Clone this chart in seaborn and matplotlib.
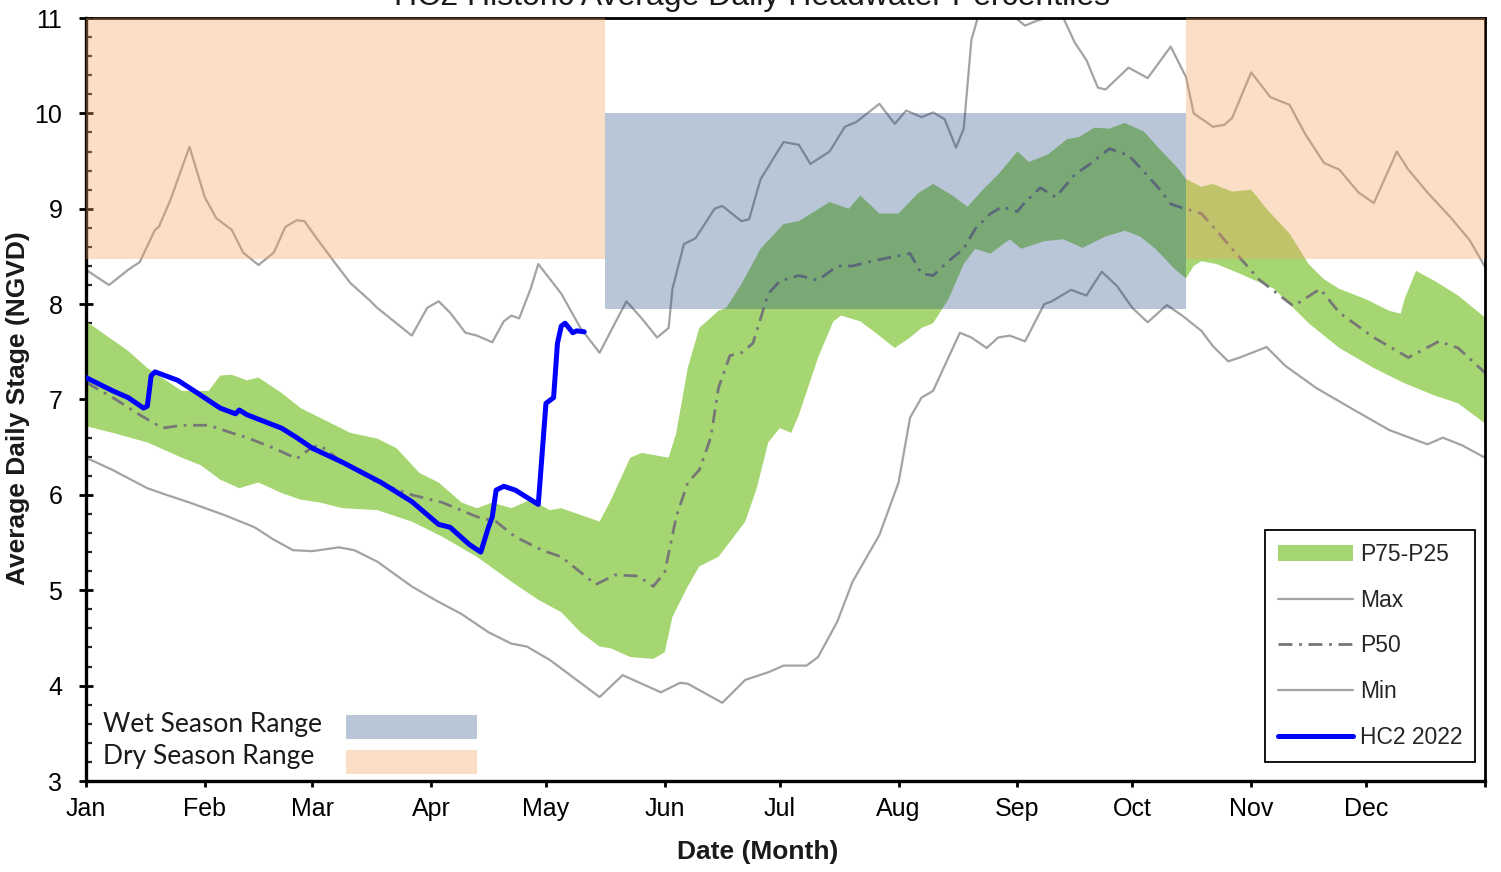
import numpy as np
import matplotlib
matplotlib.use("Agg")
import matplotlib.pyplot as plt
import seaborn as sns
from matplotlib.patches import Patch, Rectangle
from matplotlib.lines import Line2D
from matplotlib.ticker import MultipleLocator

# ---- data: (day of year, stage in ft NGVD) ----
MAX_PTS = [(0, 8.36), (6, 8.20), (11, 8.36), (14, 8.44), (18, 8.78), (19, 8.81), (22, 9.09), (27, 9.65),
           (31, 9.12), (34, 8.90), (38, 8.78), (41, 8.54), (45, 8.41), (49, 8.54), (52, 8.81), (55, 8.88),
           (57, 8.87), (60, 8.70), (65, 8.43), (69, 8.22), (74, 8.04), (76, 7.96), (85, 7.67), (89, 7.96),
           (92, 8.03), (95, 7.91), (99, 7.70), (102, 7.67), (106, 7.60), (109, 7.82), (111, 7.88), (113, 7.85),
           (116, 8.16), (118, 8.42), (124, 8.11), (129, 7.75), (134, 7.49), (138, 7.80), (141, 8.03), (145, 7.85),
           (149, 7.65), (152, 7.75), (153, 8.16), (156, 8.63), (159, 8.69), (164, 9.00), (166, 9.03), (171, 8.87),
           (173, 8.89), (176, 9.31), (182, 9.70), (186, 9.67), (189, 9.47), (194, 9.60), (198, 9.86), (201, 9.91),
           (207, 10.10), (211, 9.89), (214, 10.03), (218, 9.96), (221, 10.01), (224, 9.94), (227, 9.64), (229, 9.84),
           (231, 10.77), (233, 11.05), (241, 11.05), (245, 10.92), (248, 10.97), (252, 11.02), (255, 11.00),
           (258, 10.74), (261, 10.56), (264, 10.27), (266, 10.25), (272, 10.48), (277, 10.37), (283, 10.70),
           (287, 10.38), (289, 10.00), (294, 9.86), (297, 9.88), (299, 9.95), (304, 10.43), (309, 10.17),
           (314, 10.09), (318, 9.79), (323, 9.48), (327, 9.41), (332, 9.17), (336, 9.06), (342, 9.60), (345, 9.41),
           (350, 9.17), (356, 8.91), (361, 8.67), (365, 8.39)]

MIN_PTS = [(0, 6.39), (7, 6.26), (16, 6.07), (21, 6.00), (27, 5.92), (36, 5.79), (44, 5.66), (49, 5.53),
           (54, 5.42), (59, 5.41), (66, 5.45), (70, 5.42), (76, 5.30), (85, 5.04), (91, 4.90), (98, 4.75),
           (105, 4.56), (111, 4.44), (115, 4.41), (121, 4.27), (134, 3.88), (140, 4.11), (150, 3.93), (155, 4.03),
           (157, 4.02), (166, 3.82), (172, 4.06), (178, 4.14), (182, 4.21), (188, 4.21), (191, 4.30), (196, 4.67),
           (200, 5.09), (204, 5.37), (207, 5.58), (212, 6.13), (215, 6.81), (218, 7.02), (221, 7.09), (225, 7.44),
           (228, 7.70), (231, 7.65), (235, 7.54), (238, 7.65), (241, 7.67), (245, 7.61), (250, 8.00), (252, 8.03),
           (257, 8.15), (261, 8.09), (265, 8.34), (269, 8.19), (273, 7.96), (277, 7.81), (282, 7.99), (286, 7.88),
           (291, 7.72), (294, 7.56), (298, 7.40), (301, 7.44), (308, 7.55), (313, 7.35), (321, 7.12), (330, 6.91),
           (340, 6.68), (350, 6.53), (354, 6.60), (359, 6.52), (365, 6.39)]

P75_PTS = [(0, 7.82), (11, 7.51), (16, 7.33), (25, 7.09), (32, 7.09), (35, 7.25), (38, 7.26), (42, 7.20),
           (45, 7.23), (51, 7.07), (56, 6.91), (61, 6.81), (64, 6.75), (69, 6.65), (76, 6.59), (81, 6.49),
           (87, 6.23), (92, 6.13), (98, 5.92), (102, 5.86), (106, 5.92), (111, 5.86), (116, 5.95), (121, 5.84),
           (124, 5.86), (129, 5.79), (134, 5.72), (137, 5.95), (142, 6.39), (145, 6.44), (152, 6.39), (154, 6.65),
           (157, 7.33), (160, 7.75), (165, 7.93), (167, 7.96), (171, 8.21), (176, 8.58), (182, 8.84), (186, 8.87),
           (194, 9.07), (199, 9.00), (202, 9.14), (207, 8.95), (212, 8.95), (217, 9.16), (221, 9.26), (226, 9.14),
           (230, 9.02), (234, 9.20), (238, 9.36), (243, 9.60), (246, 9.49), (251, 9.57), (256, 9.73), (259, 9.75),
           (263, 9.85), (267, 9.84), (271, 9.90), (276, 9.81), (280, 9.63), (285, 9.42), (287, 9.31), (291, 9.23),
           (294, 9.26), (299, 9.18), (304, 9.20), (308, 9.00), (314, 8.74), (319, 8.42), (323, 8.26), (327, 8.16),
           (334, 8.05), (340, 7.93), (343, 7.90), (344, 8.05), (347, 8.35), (352, 8.24), (358, 8.09), (365, 7.86)]

P25_PTS = [(0, 6.72), (7, 6.65), (16, 6.55), (25, 6.39), (30, 6.31), (35, 6.16), (40, 6.07), (45, 6.13),
           (51, 6.02), (56, 5.95), (61, 5.92), (67, 5.86), (76, 5.84), (85, 5.72), (93, 5.56), (102, 5.35),
           (111, 5.09), (118, 4.90), (124, 4.77), (129, 4.56), (134, 4.41), (137, 4.39), (142, 4.30), (148, 4.28),
           (151, 4.35), (153, 4.72), (157, 5.04), (160, 5.25), (165, 5.35), (169, 5.56), (172, 5.72), (175, 6.07),
           (178, 6.55), (181, 6.70), (184, 6.65), (186, 6.84), (191, 7.44), (195, 7.82), (197, 7.88), (202, 7.82),
           (206, 7.70), (211, 7.54), (215, 7.65), (218, 7.75), (221, 7.80), (225, 8.05), (229, 8.42), (232, 8.58),
           (236, 8.53), (241, 8.68), (244, 8.58), (250, 8.66), (255, 8.68), (260, 8.59), (266, 8.71), (271, 8.77),
           (275, 8.71), (279, 8.58), (284, 8.37), (287, 8.27), (289, 8.40), (291, 8.45), (295, 8.42), (301, 8.32),
           (310, 8.16), (319, 7.80), (327, 7.54), (336, 7.33), (344, 7.17), (352, 7.04), (358, 6.96), (365, 6.75)]

P50_PTS = [(0, 7.18), (7, 7.02), (14, 6.84), (20, 6.70), (25, 6.73), (32, 6.73), (38, 6.65), (42, 6.60),
           (49, 6.49), (55, 6.38), (59, 6.50), (61, 6.52), (67, 6.34), (76, 6.13), (85, 6.00), (93, 5.92),
           (102, 5.77), (107, 5.72), (112, 5.56), (119, 5.42), (124, 5.35), (129, 5.19), (133, 5.06), (138, 5.16),
           (144, 5.15), (148, 5.04), (151, 5.19), (154, 5.77), (157, 6.13), (160, 6.26), (163, 6.60), (165, 7.12),
           (168, 7.46), (171, 7.49), (174, 7.59), (178, 8.11), (181, 8.24), (186, 8.30), (191, 8.25), (196, 8.40),
           (200, 8.40), (205, 8.45), (211, 8.50), (215, 8.53), (218, 8.32), (221, 8.30), (225, 8.45), (229, 8.58),
           (232, 8.79), (236, 8.95), (239, 9.02), (243, 8.97), (245, 9.07), (249, 9.22), (253, 9.12), (258, 9.36),
           (262, 9.47), (267, 9.63), (272, 9.56), (276, 9.39), (280, 9.21), (283, 9.05), (286, 9.01), (291, 8.95),
           (295, 8.77), (299, 8.58), (306, 8.26), (315, 7.98), (322, 8.16), (327, 7.91), (336, 7.65), (345, 7.44),
           (353, 7.61), (358, 7.54), (365, 7.28)]

HC2_2022_PTS = [(0, 7.23), (7, 7.09), (11, 7.02), (15, 6.91), (16, 6.93), (17, 7.25), (18, 7.29), (24, 7.20),
                (29, 7.07), (35, 6.91), (39, 6.85), (40, 6.89), (42, 6.84), (51, 6.70), (55, 6.60), (59, 6.49),
                (67, 6.34), (77, 6.13), (85, 5.93), (92, 5.69), (95, 5.66), (100, 5.48), (103, 5.40), (105, 5.66),
                (106, 5.77), (107, 6.05), (109, 6.09), (112, 6.05), (118, 5.90), (120, 6.96), (122, 7.02),
                (123, 7.59), (124, 7.77), (125, 7.80), (127, 7.70), (128, 7.72), (130, 7.71)]

# season target ranges: (start day, end day) and (low stage, high stage)
DRY_PERIODS = [(0, 135.5), (287, 365)]
DRY_STAGE = (8.47, 11.0)
WET_PERIOD = (135.5, 287)
WET_STAGE = (7.95, 10.0)

MONTHS = ["Jan", "Feb", "Mar", "Apr", "May", "Jun", "Jul", "Aug", "Sep", "Oct", "Nov", "Dec"]
MONTH_START = [0, 31, 59, 90, 120, 151, 181, 212, 243, 273, 304, 334]

# ---- styling ----
GREEN = "#A6D672"
GRAY = "#A3A3A3"
P50_GRAY = "#777777"
BLUE = "#0000FF"
WET_C = "#1A4781"
DRY_C = "#F3A159"
WET_A = 0.31
DRY_A = 0.35
P50_DASH = (0, (5, 2.4, 1, 2.4))

sns.set_theme(style="white")
plt.rcParams["font.family"] = ["Liberation Sans", "DejaVu Sans"]


def split(pts):
    d, v = zip(*pts)
    return np.asarray(d, float), np.asarray(v, float)


W, H = 1501, 872
fig = plt.figure(figsize=(W / 100, H / 100), dpi=100)
ax = fig.add_axes([86 / W, 1 - 781 / H, 1399 / W, 763 / H])

# interquartile band
d75, v75 = split(P75_PTS)
d25, v25 = split(P25_PTS)
ax.fill(np.r_[d75, d25[::-1]], np.r_[v75, v25[::-1]], color=GREEN, lw=0, zorder=1)

# max / median / min lines
for pts, col, lw, ls in [(MAX_PTS, GRAY, 1.6, "-"), (MIN_PTS, GRAY, 1.6, "-"),
                         (P50_PTS, P50_GRAY, 2.0, P50_DASH)]:
    d, v = split(pts)
    sns.lineplot(x=d, y=v, ax=ax, color=col, linewidth=lw, linestyle=ls,
                 estimator=None, sort=False, zorder=2)

# season ranges (translucent, laid over the percentile curves)
for x0, x1 in DRY_PERIODS:
    ax.fill_between([x0, x1], DRY_STAGE[0], DRY_STAGE[1], color=DRY_C, alpha=DRY_A, lw=0, zorder=3)
ax.fill_between(list(WET_PERIOD), WET_STAGE[0], WET_STAGE[1], color=WET_C, alpha=WET_A, lw=0, zorder=3)

# current year
d, v = split(HC2_2022_PTS)
sns.lineplot(x=d, y=v, ax=ax, color=BLUE, linewidth=3.6, estimator=None, sort=False,
             zorder=4, solid_capstyle="round", solid_joinstyle="round")

# axes
ax.set_xlim(0, 365)
ax.set_ylim(3, 11)
ax.set_xticks(MONTH_START + [365])
ax.set_xticklabels(MONTHS + [""])
ax.set_yticks(range(3, 12))
ax.yaxis.set_minor_locator(MultipleLocator(0.2))
ax.set_xlabel("")
ax.set_ylabel("")
ax.grid(False)
ax.tick_params(axis="y", which="major", direction="inout", length=10, width=2, pad=12,
               labelsize=18, left=True, colors="black")
ax.tick_params(axis="y", which="minor", direction="in", length=4.5, width=1.6, left=True)
ax.tick_params(axis="x", which="major", direction="out", length=4.5, width=2, pad=7,
               labelsize=18, bottom=True, colors="black")
for name, s in ax.spines.items():
    s.set_visible(True)
    s.set_color("black")
    s.set_linewidth(2.4 if name in ("left", "bottom") else 2.0)

fig.text(752 / W, 1 - 4.5 / H, "HC2 Historic Average Daily Headwater Percentiles",
         ha="center", va="baseline", fontsize=23, color="#1a1a1a")
fig.text(758 / W, 1 - 852 / H, "Date (Month)", ha="center", va="center",
         fontsize=19, fontweight="bold", color="#1a1a1a")
fig.text(18 / W, 1 - 408 / H, "Average Daily Stage (NGVD)", ha="center", va="center",
         rotation=90, fontsize=19, fontweight="bold", color="#1a1a1a")

# series legend
handles = [Patch(facecolor=GREEN, edgecolor="none"),
           Line2D([], [], color=GRAY, lw=1.6),
           Line2D([], [], color=P50_GRAY, lw=2.0, linestyle=P50_DASH),
           Line2D([], [], color=GRAY, lw=1.6),
           Line2D([], [], color=BLUE, lw=3.6, solid_capstyle="round")]
labels = ["P75-P25", "Max", "P50", "Min", "HC2 2022"]
leg = ax.legend(handles, labels, loc="lower right", bbox_to_anchor=(0.993, 0.025),
                frameon=True, fancybox=False, edgecolor="black", framealpha=1,
                fontsize=16.5, handlelength=3.3, handletextpad=0.3, labelspacing=1.0,
                borderpad=0.55, borderaxespad=0)
leg.get_frame().set_linewidth(1.3)
leg.set_zorder(6)

# season range key
key_font = ["Lato", "DejaVu Sans"]
for label, ty, ry, col, a in [("Wet Season Range", 0.0734, 0.0550, WET_C, WET_A),
                              ("Dry Season Range", 0.0315, 0.0092, DRY_C, DRY_A)]:
    ax.text(0.0122, ty, label, transform=ax.transAxes, ha="left", va="center",
            fontsize=19, family=key_font, color="#1a1a1a", zorder=6)
    ax.add_patch(Rectangle((0.186, ry), 0.0936, 0.032, transform=ax.transAxes,
                           facecolor=col, alpha=a, lw=0, zorder=6))

fig.savefig("out.png", dpi=100)
